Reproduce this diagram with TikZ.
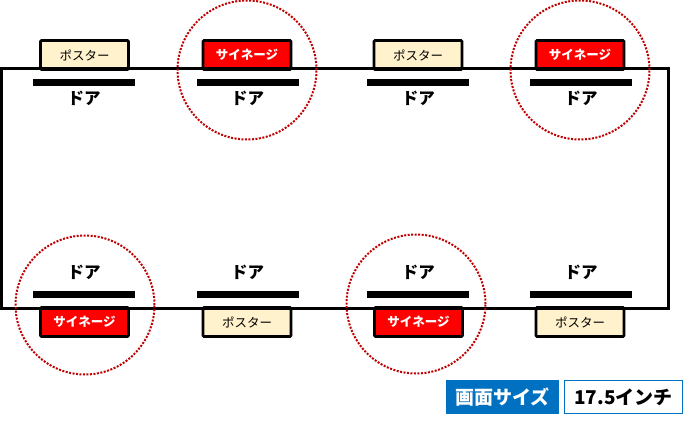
\documentclass[tikz,border=0pt]{standalone}
\usepackage{fontspec}
\setmainfont{Noto Sans CJK JP}
\begin{document}
\begin{tikzpicture}[x=1pt,y=-1pt,
  board/.style={draw=black,line width=2.6pt,rounded corners=1pt,minimum height=29pt,minimum width=88pt,inner sep=0pt,anchor=center},
  poster/.style={board,fill=posterfill,text=black,font=\fontsize{12.5}{12.5}\selectfont},
  signage/.style={board,fill=red,text=white,font=\fontsize{12.5}{12.5}\selectfont\bfseries},
  doorbar/.style={fill=black,draw=none,minimum width=102pt,minimum height=7pt,inner sep=0pt},
  doorlabel/.style={font=\fontsize{16.5}{16.5}\selectfont\bfseries,inner sep=0pt,text=black},
  halo/.style={draw=circlered,line width=2pt,dash pattern=on 2pt off 1.5pt,minimum size=139pt,inner sep=0pt,circle}]
\definecolor{posterfill}{HTML}{FFF2CC}
\definecolor{circlered}{HTML}{C00000}
\definecolor{legendblue}{HTML}{0070C0}
\useasboundingbox (0,0) rectangle (684,422);
\fill[white] (0,0) rectangle (684,422);
% boards behind the room wall
\node[poster]  (p1) at (84.5,55)  {ポスター};
\node[signage] (s1) at (247,55)   {サイネージ};
\node[poster]  (p2) at (418,55)   {ポスター};
\node[signage] (s2) at (580,55)   {サイネージ};
\node[signage] (s3) at (84.5,322) {サイネージ};
\node[poster]  (p3) at (247,322)  {ポスター};
\node[signage] (s4) at (418.5,322)  {サイネージ};
\node[poster]  (p4) at (580,322)  {ポスター};
% room
\node[draw=black,line width=3pt,minimum width=667pt,minimum height=240pt,inner sep=0pt] (room) at (335,188.5) {};
% doors
\foreach \n/\x in {a/84,b/247.5,c/418.3,d/581}{
  \node[doorbar] (t\n) at (\x,82.5) {};
  \node[doorlabel] (tl\n) at (\x,98) {ドア};
  \node[doorbar] (u\n) at (\x,294.5) {};
  \node[doorlabel] (ul\n) at (\x,272) {ドア};
}
% highlight circles
\node[halo] (h1) at (247,70) {};
\node[halo] (h2) at (580,70) {};
\node[halo] (h3) at (85,305) {};
\node[halo] (h4) at (416,304) {};
% legend
\node[fill=legendblue,text=white,font=\fontsize{19}{19}\selectfont\bfseries,minimum width=113pt,minimum height=34pt,inner sep=0pt] (lg1) at (502.5,397) {画面サイズ};
\node[draw=legendblue,fill=white,line width=0.75pt,text=black,font=\fontsize{19}{19}\selectfont\bfseries,minimum width=118pt,minimum height=33pt,inner sep=0pt] (lg2) at (623.5,397) {17.5インチ};
\end{tikzpicture}
\end{document}
